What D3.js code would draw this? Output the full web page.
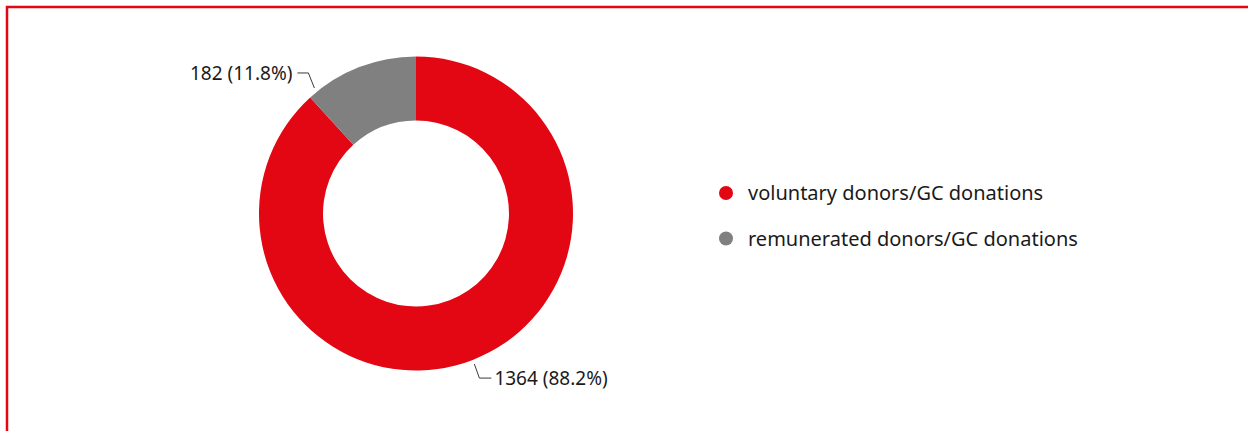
<!DOCTYPE html>
<html>
<head>
<meta charset="utf-8">
<script src="https://cdn.jsdelivr.net/npm/d3@7"></script>
<style>
  html, body { margin: 0; padding: 0; background: #fff; }
  svg { display: block; }
  text { font-family: "Noto Sans", "Open Sans", sans-serif; fill: #1a1a1a; }
</style>
</head>
<body>
<svg id="chart" width="1248" height="431"></svg>
<script>
// Donations by donor type
const categories = ["voluntary donors/GC donations", "remunerated donors/GC donations"];
const values = [1364, 182];
const percentLabels = ["88.2%", "11.8%"];
const colors = ["#e30613", "#808080"];

const W = 1248, H = 431;
const svg = d3.select("#chart");

// frame: top and left rule only, the rest runs off the page
svg.append("path")
  .attr("d", `M7,${H + 10} V7 H${W + 10}`)
  .attr("fill", "none")
  .attr("stroke", "#e30613")
  .attr("stroke-width", 2.5);

const cx = 416, cy = 213.5;
const outerR = 157, innerR = 93;

const pie = d3.pie().sort(null).value(d => d);
const arcs = pie(values);
const arc = d3.arc().innerRadius(innerR).outerRadius(outerR);

const g = svg.append("g").attr("transform", `translate(${cx},${cy})`);

g.selectAll("path.slice")
  .data(arcs)
  .join("path")
  .attr("class", "slice")
  .attr("d", arc)
  .attr("fill", (d, i) => colors[i]);

// leader lines: anchor angle as a fraction across each slice, then an elbow and a short tail
const anchorFrac = [0.5, 0.08];
const anchorR = outerR + 4.5;
const elbow = [[5, 14], [-6, -15]];
const tail = [12, -11];
const fmt = d3.format("d");

arcs.forEach((a, i) => {
  const ang = a.startAngle + (a.endAngle - a.startAngle) * anchorFrac[i];
  const p0 = [anchorR * Math.sin(ang), -anchorR * Math.cos(ang)];
  const p1 = [p0[0] + elbow[i][0], p0[1] + elbow[i][1]];
  const p2 = [p1[0] + tail[i], p1[1]];
  g.append("polyline")
    .attr("points", [p0, p1, p2].map(p => p.join(",")).join(" "))
    .attr("fill", "none")
    .attr("stroke", "#3a3a3a")
    .attr("stroke-width", 1);
  g.append("text")
    .attr("x", p2[0] + (tail[i] > 0 ? 3 : -5))
    .attr("y", p2[1])
    .attr("dy", "0.35em")
    .attr("text-anchor", tail[i] > 0 ? "start" : "end")
    .style("font-size", "19px")
    .text(`${fmt(values[i])} (${percentLabels[i]})`);
});

// legend
const legend = svg.append("g").attr("transform", "translate(726,193)");
const row = legend.selectAll("g")
  .data(categories)
  .join("g")
  .attr("transform", (d, i) => `translate(0,${i * 45.5})`);
row.append("circle").attr("r", 7).attr("fill", (d, i) => colors[i]);
row.append("text")
  .attr("x", 22)
  .attr("dy", "0.35em")
  .style("font-size", "20px")
  .text(d => d);
</script>
</body>
</html>
